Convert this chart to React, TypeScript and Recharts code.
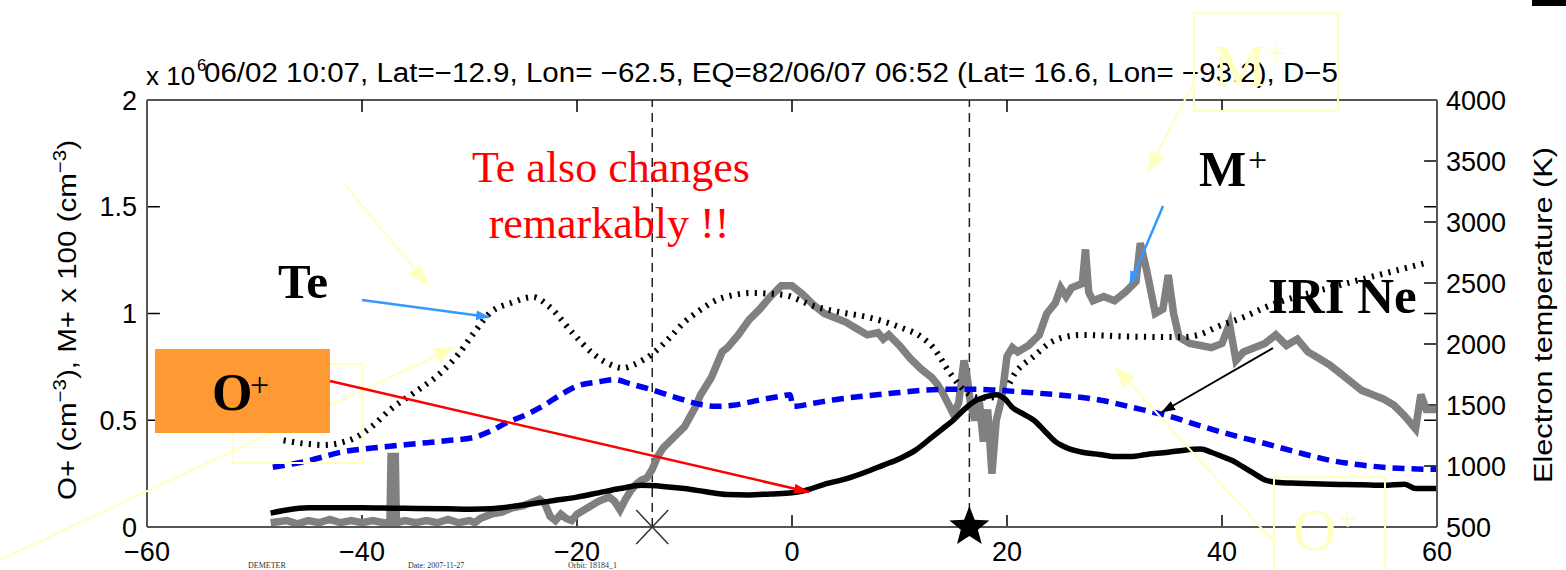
import React from 'react';
import { ComposedChart, Line, XAxis, YAxis, ReferenceLine, ReferenceDot } from 'recharts';

// ---------- axis ticks ----------
const X_TICKS = [-60, -40, -20, 0, 20, 40, 60];
const LEFT_TICKS = [0, 0.5, 1, 1.5, 2];
const RIGHT_TICKS = [500, 1000, 1500, 2000, 2500, 3000, 3500, 4000];
const INNER_X_TICKS = [-40, -20, 0, 20, 40];
const INNER_LEFT_TICKS = [0.5, 1, 1.5];
const INNER_RIGHT_TICKS = [1000, 1500, 2000, 2500, 3000, 3500];
const EVENT_LINES = [-13, 16.5];
const CROSS_AT = -13;
const STAR_AT = 16.5;

// ---------- series ----------
// O+ (black, left axis)
const oPlus = [
  { x: -48.5, y: 0.065 }, { x: -47, y: 0.08 }, { x: -45, y: 0.09 }, { x: -42, y: 0.09 }, { x: -40, y: 0.09 },
  { x: -37, y: 0.088 }, { x: -35, y: 0.087 }, { x: -32, y: 0.085 }, { x: -30, y: 0.083 }, { x: -28, y: 0.085 },
  { x: -27, y: 0.09 }, { x: -25.5, y: 0.1 }, { x: -24, y: 0.11 }, { x: -22, y: 0.125 }, { x: -20, y: 0.14 },
  { x: -18, y: 0.16 }, { x: -16, y: 0.18 }, { x: -14, y: 0.195 }, { x: -12, y: 0.19 }, { x: -10, y: 0.18 },
  { x: -8, y: 0.165 }, { x: -6, y: 0.152 }, { x: -4, y: 0.15 }, { x: -2, y: 0.155 }, { x: 0, y: 0.16 },
  { x: 1.5, y: 0.175 }, { x: 3, y: 0.2 }, { x: 5, y: 0.225 }, { x: 7, y: 0.26 }, { x: 8.5, y: 0.29 },
  { x: 10, y: 0.32 }, { x: 11.5, y: 0.36 }, { x: 13, y: 0.42 }, { x: 14, y: 0.46 }, { x: 15, y: 0.5 },
  { x: 16, y: 0.55 }, { x: 17, y: 0.59 }, { x: 18, y: 0.61 }, { x: 19, y: 0.62 }, { x: 19.8, y: 0.6 },
  { x: 20.5, y: 0.56 }, { x: 21.5, y: 0.53 }, { x: 22.5, y: 0.5 }, { x: 23.5, y: 0.45 }, { x: 24.5, y: 0.4 },
  { x: 25.6, y: 0.37 }, { x: 27, y: 0.35 }, { x: 28.6, y: 0.34 }, { x: 30, y: 0.33 }, { x: 31.5, y: 0.33 },
  { x: 33, y: 0.34 }, { x: 35, y: 0.35 }, { x: 36.5, y: 0.36 }, { x: 38, y: 0.365 }, { x: 39, y: 0.35 },
  { x: 40, y: 0.33 }, { x: 41, y: 0.31 }, { x: 42, y: 0.28 }, { x: 43, y: 0.25 }, { x: 44, y: 0.22 },
  { x: 45, y: 0.21 }, { x: 47, y: 0.205 }, { x: 50, y: 0.2 }, { x: 53, y: 0.198 }, { x: 55, y: 0.195 },
  { x: 57, y: 0.2 }, { x: 58, y: 0.18 }, { x: 60, y: 0.18 },
];

// M+ x 100 (gray, left axis)
const mPlus = [
  { x: -48.5, y: 0.02 }, { x: -47, y: 0.03 }, { x: -46, y: 0.015 }, { x: -45, y: 0.03 }, { x: -44, y: 0.02 },
  { x: -43, y: 0.035 }, { x: -42, y: 0.02 }, { x: -41, y: 0.03 }, { x: -40, y: 0.02 }, { x: -39, y: 0.03 },
  { x: -38, y: 0.02 }, { x: -37.4, y: 0.02 }, { x: -37.3, y: 0.33 }, { x: -36.9, y: 0.33 }, { x: -36.8, y: 0.02 },
  { x: -36, y: 0.03 }, { x: -35, y: 0.02 }, { x: -34, y: 0.03 }, { x: -33, y: 0.02 }, { x: -32, y: 0.035 },
  { x: -31, y: 0.02 }, { x: -30, y: 0.03 }, { x: -29.5, y: 0.02 }, { x: -29, y: 0.04 }, { x: -28, y: 0.06 },
  { x: -27, y: 0.07 }, { x: -26, y: 0.09 }, { x: -25, y: 0.1 }, { x: -24, y: 0.12 }, { x: -23.5, y: 0.13 },
  { x: -23, y: 0.11 }, { x: -22.5, y: 0.05 }, { x: -22, y: 0.03 }, { x: -21.5, y: 0.06 }, { x: -21, y: 0.04 },
  { x: -20.5, y: 0.03 }, { x: -20, y: 0.06 }, { x: -19, y: 0.09 }, { x: -18, y: 0.12 }, { x: -17, y: 0.14 },
  { x: -16.5, y: 0.12 }, { x: -16, y: 0.08 }, { x: -15.5, y: 0.13 }, { x: -15, y: 0.17 }, { x: -14.5, y: 0.2 },
  { x: -14, y: 0.22 }, { x: -13.5, y: 0.23 }, { x: -13, y: 0.27 }, { x: -12.5, y: 0.33 }, { x: -12, y: 0.37 },
  { x: -11, y: 0.42 }, { x: -10, y: 0.47 }, { x: -9, y: 0.56 }, { x: -8.5, y: 0.62 }, { x: -7.5, y: 0.7 },
  { x: -6.5, y: 0.82 }, { x: -6, y: 0.84 }, { x: -5, y: 0.9 }, { x: -4, y: 0.97 }, { x: -3, y: 1.02 },
  { x: -2, y: 1.08 }, { x: -1, y: 1.13 }, { x: 0, y: 1.13 }, { x: 1, y: 1.09 }, { x: 2, y: 1.04 },
  { x: 3, y: 1.0 }, { x: 4, y: 0.98 }, { x: 5, y: 0.96 }, { x: 6, y: 0.93 }, { x: 7, y: 0.9 },
  { x: 8, y: 0.91 }, { x: 8.5, y: 0.88 }, { x: 9, y: 0.9 }, { x: 10, y: 0.85 }, { x: 11, y: 0.79 },
  { x: 12, y: 0.74 }, { x: 13, y: 0.7 }, { x: 13.5, y: 0.67 }, { x: 14, y: 0.63 }, { x: 14.5, y: 0.58 },
  { x: 15, y: 0.53 }, { x: 15.5, y: 0.58 }, { x: 16, y: 0.78 }, { x: 16.3, y: 0.7 }, { x: 16.6, y: 0.58 },
  { x: 17, y: 0.5 }, { x: 17.4, y: 0.6 }, { x: 17.8, y: 0.4 }, { x: 18.2, y: 0.55 }, { x: 18.6, y: 0.25 },
  { x: 19, y: 0.5 }, { x: 19.5, y: 0.6 }, { x: 20, y: 0.8 }, { x: 20.5, y: 0.84 }, { x: 21, y: 0.82 },
  { x: 22, y: 0.85 }, { x: 23, y: 0.9 }, { x: 23.7, y: 1.0 }, { x: 24.5, y: 1.05 }, { x: 25, y: 1.12 },
  { x: 25.5, y: 1.08 }, { x: 26, y: 1.12 }, { x: 27, y: 1.14 }, { x: 27.3, y: 1.3 }, { x: 27.6, y: 1.1 },
  { x: 28, y: 1.06 }, { x: 29, y: 1.08 }, { x: 30, y: 1.06 }, { x: 31, y: 1.1 }, { x: 32, y: 1.15 },
  { x: 32.4, y: 1.33 }, { x: 33, y: 1.2 }, { x: 33.8, y: 1.0 }, { x: 34.5, y: 1.02 }, { x: 35, y: 1.18 },
  { x: 35.5, y: 1.0 }, { x: 36, y: 0.89 }, { x: 37, y: 0.86 }, { x: 38, y: 0.85 }, { x: 39, y: 0.84 },
  { x: 40, y: 0.86 }, { x: 40.7, y: 0.95 }, { x: 41.3, y: 0.78 }, { x: 42, y: 0.82 }, { x: 43, y: 0.84 },
  { x: 44, y: 0.86 }, { x: 45, y: 0.9 }, { x: 46, y: 0.85 }, { x: 47, y: 0.88 }, { x: 48, y: 0.82 },
  { x: 49, y: 0.79 }, { x: 50, y: 0.76 }, { x: 51, y: 0.72 }, { x: 52, y: 0.68 }, { x: 53, y: 0.64 },
  { x: 54, y: 0.62 }, { x: 55, y: 0.6 }, { x: 56, y: 0.57 }, { x: 57, y: 0.52 }, { x: 58, y: 0.46 },
  { x: 58.5, y: 0.62 }, { x: 59, y: 0.55 }, { x: 60, y: 0.55 },
];

// IRI Ne (blue dashed, left axis)
const iriNe = [
  { x: -48.3, y: 0.28 }, { x: -45, y: 0.31 }, { x: -42, y: 0.35 }, { x: -38, y: 0.375 }, { x: -35, y: 0.39 },
  { x: -32, y: 0.405 }, { x: -29.6, y: 0.42 }, { x: -28, y: 0.45 }, { x: -26.5, y: 0.49 }, { x: -25, y: 0.52 },
  { x: -23.4, y: 0.56 }, { x: -21.5, y: 0.62 }, { x: -20, y: 0.66 }, { x: -18, y: 0.68 }, { x: -16.5, y: 0.69 },
  { x: -15, y: 0.67 }, { x: -13.2, y: 0.645 }, { x: -11, y: 0.61 }, { x: -8.6, y: 0.575 }, { x: -7, y: 0.565 },
  { x: -5.5, y: 0.57 }, { x: -3, y: 0.595 }, { x: -0.8, y: 0.615 }, { x: -0.2, y: 0.62 }, { x: 0.1, y: 0.565 },
  { x: 2, y: 0.58 }, { x: 3.8, y: 0.595 }, { x: 7, y: 0.615 }, { x: 10, y: 0.63 }, { x: 12, y: 0.64 },
  { x: 14.7, y: 0.645 }, { x: 17, y: 0.645 }, { x: 19.3, y: 0.64 }, { x: 22, y: 0.63 }, { x: 25.6, y: 0.615 },
  { x: 28.6, y: 0.595 }, { x: 31.7, y: 0.56 }, { x: 35, y: 0.52 }, { x: 37.9, y: 0.475 }, { x: 41, y: 0.43 },
  { x: 44.1, y: 0.39 }, { x: 47, y: 0.35 }, { x: 50.3, y: 0.31 }, { x: 53, y: 0.29 }, { x: 56.4, y: 0.275 },
  { x: 60, y: 0.27 },
];

// Electron temperature (black dotted, right axis)
const te = [
  { x: -47.3, y: 1210 }, { x: -45, y: 1180 }, { x: -43.6, y: 1172 }, { x: -42, y: 1190 }, { x: -40.5, y: 1238 },
  { x: -39, y: 1330 }, { x: -37.4, y: 1460 }, { x: -35, y: 1610 }, { x: -32.7, y: 1762 }, { x: -31, y: 1920 },
  { x: -29.6, y: 2090 }, { x: -28.1, y: 2254 }, { x: -26, y: 2340 }, { x: -24.1, y: 2385 }, { x: -22.5, y: 2300 },
  { x: -20.4, y: 2090 }, { x: -18.5, y: 1920 }, { x: -17.2, y: 1844 }, { x: -15.7, y: 1803 }, { x: -14.8, y: 1828 },
  { x: -12.9, y: 1926 }, { x: -11.5, y: 2040 }, { x: -10.1, y: 2172 }, { x: -8.5, y: 2280 }, { x: -7, y: 2361 },
  { x: -5.5, y: 2400 }, { x: -3.9, y: 2418 }, { x: -0.8, y: 2402 }, { x: 2.3, y: 2303 }, { x: 4.5, y: 2260 },
  { x: 7, y: 2221 }, { x: 10, y: 2139 }, { x: 12, y: 2060 }, { x: 13.1, y: 1975 }, { x: 14.7, y: 1762 },
  { x: 16.3, y: 1598 }, { x: 17.5, y: 1560 }, { x: 19.3, y: 1566 }, { x: 20.9, y: 1780 }, { x: 22.5, y: 1900 },
  { x: 24, y: 2010 }, { x: 25.5, y: 2060 }, { x: 27, y: 2074 }, { x: 31.7, y: 2060 }, { x: 36.4, y: 2057 },
  { x: 38, y: 2080 }, { x: 39.5, y: 2139 }, { x: 42, y: 2220 }, { x: 44.1, y: 2303 }, { x: 47, y: 2390 },
  { x: 50.3, y: 2467 }, { x: 53, y: 2530 }, { x: 56.4, y: 2607 }, { x: 59.3, y: 2672 },
];

const TITLE = '06/02 10:07, Lat=\u221212.9, Lon= \u221262.5, EQ=82/06/07 06:52 (Lat= 16.6, Lon= \u221293.2), D\u22125';

const SANS = '"Liberation Sans", Arial, sans-serif';
const SERIF = '"Liberation Serif", "Times New Roman", serif';

const fmtMinus = (v: number) => String(v).replace('-', '\u2212');

function starPath(cx: number, cy: number, R: number, r: number) {
  let d = '';
  for (let i = 0; i < 10; i++) {
    const a = -Math.PI / 2 + (i * Math.PI) / 5;
    const rad = i % 2 === 0 ? R : r;
    d += (i === 0 ? 'M' : 'L') + (cx + rad * Math.cos(a)).toFixed(1) + ',' + (cy + rad * Math.sin(a)).toFixed(1);
  }
  return d + 'Z';
}

const CrossShape = (p: any) => (
  <g stroke="#333" strokeWidth={1.5}>
    <line x1={p.cx - 16} y1={p.cy - 17} x2={p.cx + 16} y2={p.cy + 17} />
    <line x1={p.cx + 16} y1={p.cy - 17} x2={p.cx - 16} y2={p.cy + 17} />
  </g>
);

const StarShape = (p: any) => <path d={starPath(p.cx, p.cy, 21, 9)} fill="#000" />;

const YEL = '#ffffbf';

const Overlay = () => (
  <svg width={1566} height={570} style={{ position: 'absolute', left: 0, top: 0, pointerEvents: 'none' }}>
    <defs>
      <marker id="ahBlue" markerWidth="14" markerHeight="10" refX="13" refY="5" orient="auto" markerUnits="userSpaceOnUse">
        <path d="M0,0 L14,5 L0,10 z" fill="#3399ff" />
      </marker>
      <marker id="ahRed" markerWidth="16" markerHeight="10" refX="15" refY="5" orient="auto" markerUnits="userSpaceOnUse">
        <path d="M0,0 L16,5 L0,10 z" fill="#ff0000" />
      </marker>
      <marker id="ahBlack" markerWidth="14" markerHeight="10" refX="13" refY="5" orient="auto" markerUnits="userSpaceOnUse">
        <path d="M0,0 L14,5 L0,10 z" fill="#000" />
      </marker>
      <marker id="ahYel" markerWidth="22" markerHeight="16" refX="21" refY="8" orient="auto" markerUnits="userSpaceOnUse">
        <path d="M0,0 L22,8 L0,16 z" fill={YEL} />
      </marker>
    </defs>

    {/* title */}
    <text x={146} y={85} fontFamily={SANS} fontSize={26} fill="#000">x 10</text>
    <text x={197} y={71} fontFamily={SANS} fontSize={17} fill="#000">6</text>
    <text x={204} y={82} fontFamily={SANS} fontSize={27} fill="#000" textLength={1134} lengthAdjust="spacingAndGlyphs">{TITLE}</text>

    {/* axis titles */}
    <text transform="translate(76,320) rotate(-90)" textAnchor="middle" fontFamily={SANS} fontSize={26} fill="#000" textLength={360} lengthAdjust="spacingAndGlyphs">
      O+ (cm<tspan fontSize={18} dy={-10}>−3</tspan><tspan dy={10}>), M+ x 100 (cm</tspan><tspan fontSize={18} dy={-10}>−3</tspan><tspan dy={10}>)</tspan>
    </text>
    <text transform="translate(1552,315) rotate(-90)" textAnchor="middle" fontFamily={SANS} fontSize={26} fill="#000" textLength={336} lengthAdjust="spacingAndGlyphs">
      Electron temperature (K)
    </text>

    {/* footer */}
    <text x={248} y={568} fontFamily={SERIF} fontSize={8} fill="#333">DEMETER</text>
    <text x={408} y={568} fontFamily={SERIF} fontSize={8} fill="#333">Date: 2007-11-27</text>
    <text x={568} y={568} fontFamily={SERIF} fontSize={8} fill="#333">Orbit: 18184_1</text>

    {/* faint yellow annotations */}
    <rect x={1194} y={13} width={144} height={98} fill="none" stroke={YEL} strokeWidth={2} />
    <text x={1213} y={86} fontFamily={SERIF} fontSize={60} fill={YEL}>M</text>
    <text x={1267} y={64} fontFamily={SERIF} fontSize={34} fill={YEL}>+</text>
    <line x1={1194} y1={82} x2={1148} y2={172} stroke={YEL} strokeWidth={2} markerEnd="url(#ahYel)" />
    <rect x={1274} y={477} width={111} height={100} fill="none" stroke={YEL} strokeWidth={2} />
    <text x={1293} y={550} fontFamily={SERIF} fontSize={60} fill={YEL}>O</text>
    <text x={1338} y={530} fontFamily={SERIF} fontSize={34} fill={YEL}>+</text>
    <line x1={1274} y1={542} x2={1115} y2={367} stroke={YEL} strokeWidth={2} markerEnd="url(#ahYel)" />
    <rect x={233} y={364} width={130} height={99} fill="none" stroke={YEL} strokeWidth={2} />
    <line x1={0} y1={560} x2={455} y2={347} stroke={YEL} strokeWidth={2} markerEnd="url(#ahYel)" />
    <line x1={345} y1={185} x2={428} y2={285} stroke={YEL} strokeWidth={2} markerEnd="url(#ahYel)" />

    {/* red note */}
    <text x={611} y={182} textAnchor="middle" fontFamily={SERIF} fontSize={44} fill="#ff0000">Te also changes</text>
    <text x={609} y={238} textAnchor="middle" fontFamily={SERIF} fontSize={44} fill="#ff0000">remarkably !!</text>

    {/* labels */}
    <text x={278} y={298} fontFamily={SERIF} fontSize={49} fontWeight="bold" fill="#000">Te</text>
    <line x1={362} y1={300} x2={489} y2={317} stroke="#3399ff" strokeWidth={2.5} markerEnd="url(#ahBlue)" />

    <text x={1199} y={186} fontFamily={SERIF} fontSize={50} fontWeight="bold" fill="#000">M</text>
    <text x={1248} y={171} fontFamily={SERIF} fontSize={34} fill="#000">+</text>
    <line x1={1163} y1={206} x2={1130} y2={284} stroke="#3399ff" strokeWidth={2.5} markerEnd="url(#ahBlue)" />

    <text x={1268} y={313} fontFamily={SERIF} fontSize={51} fontWeight="bold" fill="#000">IRI Ne</text>
    <line x1={1273} y1={348} x2={1162} y2={412} stroke="#000" strokeWidth={2} markerEnd="url(#ahBlack)" />

    <rect x={155} y={349} width={175} height={84} fill="#ff9933" />
    <text x={212} y={410} fontFamily={SERIF} fontSize={52} fontWeight="bold" fill="#000">O</text>
    <text x={250} y={396} fontFamily={SERIF} fontSize={34} fill="#000">+</text>
    <line x1={330} y1={381} x2={809} y2={492} stroke="#ff0000" strokeWidth={2.5} markerEnd="url(#ahRed)" />

    <rect x={1532} y={0} width={34} height={6} fill="#000" />
  </svg>
);

export default function App() {
  const tickStyle = { fontSize: 27, fill: '#000', fontFamily: SANS };
  return (
    <div style={{ position: 'absolute', left: 0, top: 0, width: 1566, height: 570, background: '#fff' }}>
      <ComposedChart width={1566} height={570} margin={{ top: 100, right: 69, bottom: 13, left: 87 }}>
        <XAxis
          type="number"
          dataKey="x"
          domain={[-60, 60]}
          ticks={X_TICKS}
          tickLine={false}
          tickSize={0}
          tickMargin={15}
          tick={tickStyle}
          tickFormatter={fmtMinus}
          axisLine={{ stroke: '#555', strokeWidth: 2 }}
          interval={0}
        />
        <YAxis
          yAxisId="left"
          type="number"
          domain={[0, 2]}
          ticks={LEFT_TICKS}
          width={60}
          tickLine={false}
          tickSize={0}
          tickMargin={10}
          tick={tickStyle}
          axisLine={{ stroke: '#555', strokeWidth: 2 }}
          interval={0}
        />
        <YAxis
          yAxisId="right"
          orientation="right"
          type="number"
          domain={[500, 4000]}
          ticks={RIGHT_TICKS}
          width={60}
          tickLine={false}
          tickSize={0}
          tickMargin={9}
          tick={tickStyle}
          axisLine={{ stroke: '#555', strokeWidth: 2 }}
          interval={0}
        />

        <ReferenceLine yAxisId="left" y={2} stroke="#555" strokeWidth={2} />
        {INNER_X_TICKS.map((t) => (
          <ReferenceLine key={'xb' + t} yAxisId="left" segment={[{ x: t, y: 0 }, { x: t, y: 0.056 }]} stroke="#000" strokeWidth={1.5} />
        ))}
        {INNER_X_TICKS.map((t) => (
          <ReferenceLine key={'xt' + t} yAxisId="left" segment={[{ x: t, y: 2 }, { x: t, y: 1.944 }]} stroke="#000" strokeWidth={1.5} />
        ))}
        {INNER_LEFT_TICKS.map((t) => (
          <ReferenceLine key={'yl' + t} yAxisId="left" segment={[{ x: -60, y: t }, { x: -58.8, y: t }]} stroke="#000" strokeWidth={1.5} />
        ))}
        {INNER_LEFT_TICKS.map((t) => (
          <ReferenceLine key={'ylr' + t} yAxisId="left" segment={[{ x: 60, y: t }, { x: 58.8, y: t }]} stroke="#000" strokeWidth={1.5} />
        ))}
        {INNER_RIGHT_TICKS.map((t) => (
          <ReferenceLine key={'yr' + t} yAxisId="right" segment={[{ x: 60, y: t }, { x: 58.8, y: t }]} stroke="#000" strokeWidth={1.5} />
        ))}
        {EVENT_LINES.map((t) => (
          <ReferenceLine key={'ev' + t} yAxisId="left" x={t} stroke="#222" strokeWidth={1.5} strokeDasharray="9 6" />
        ))}

        <Line yAxisId="left" data={mPlus} dataKey="y" type="linear" stroke="#808080" strokeWidth={7.5} dot={false} isAnimationActive={false} strokeLinejoin="miter" />
        <Line yAxisId="right" data={te} dataKey="y" type="monotone" stroke="#000" strokeWidth={6} strokeDasharray="2.2 6.3" dot={false} isAnimationActive={false} />
        <Line yAxisId="left" data={iriNe} dataKey="y" type="monotone" stroke="#0000f0" strokeWidth={5.5} strokeDasharray="12 7" dot={false} isAnimationActive={false} />
        <Line yAxisId="left" data={oPlus} dataKey="y" type="monotone" stroke="#000" strokeWidth={5.5} dot={false} isAnimationActive={false} />

        <ReferenceDot yAxisId="left" x={CROSS_AT} y={0} r={16} shape={CrossShape} />
        <ReferenceDot yAxisId="left" x={STAR_AT} y={0} r={20} shape={StarShape} />
      </ComposedChart>
      <Overlay />
    </div>
  );
}
